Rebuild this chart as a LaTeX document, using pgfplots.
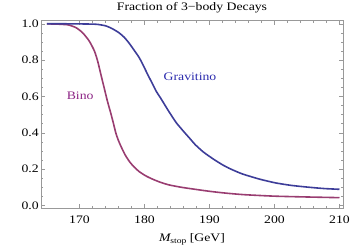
\documentclass[border=0pt]{standalone}
\usepackage{pgfplots}
\pgfplotsset{compat=1.18}
\usepackage{fontspec}
\setmainfont{Liberation Serif}
\definecolor{gravline}{rgb}{0.24,0.24,0.6}
\definecolor{binoline}{rgb}{0.6,0.24,0.442}
\definecolor{gravtext}{rgb}{0.17,0.17,0.68}
\definecolor{binotext}{rgb}{0.55,0.14,0.52}
\definecolor{framecol}{gray}{0.6}
\begin{document}
\begin{tikzpicture}
\useasboundingbox (-41bp,-40.7bp) rectangle (309bp,208.2bp);
\begin{axis}[
  at={(0,0)}, anchor=south west,
  scale only axis, width=302bp, height=187.5bp,
  xmin=164.08, xmax=210.54, ymin=-0.015, ymax=1.017,
  xtick={170,180,190,200,210},
  ytick={0,0.2,0.4,0.6,0.8,1.0},
  minor x tick num=4, minor y tick num=3,
  tick align=inside,
  major tick length=4bp, minor tick length=2bp,
  axis line style={framecol, line width=0.6bp},
  every tick/.style={framecol, line width=0.5bp},
  every axis title shift=0pt,
  /pgf/number format/assume math mode=true,
  yticklabel style={/pgf/number format/fixed, /pgf/number format/fixed zerofill, /pgf/number format/precision=1,
     anchor=east, inner sep=0pt, xshift=-2bp, font=\fontsize{11.5}{12}\selectfont, xscale=1.2},
  xticklabel style={anchor=base, inner sep=0pt, yshift=-15bp, font=\fontsize{11.5}{12}\selectfont, xscale=1.2},
  title={Fraction of 3−body Decays},
  title style={at={(axis description cs:0.5,1)}, anchor=base, yshift=10bp, inner sep=0pt, font=\fontsize{11.5}{12}\selectfont, xscale=1.2},
  xlabel={{\itshape M}\raisebox{-0.35ex}{\fontsize{8}{8}\selectfont stop} [GeV]},
  xlabel style={at={(axis description cs:0.5,0)}, anchor=base, yshift=-33.4bp, inner sep=0pt, font=\fontsize{11.5}{12}\selectfont, xscale=1.2},
]
\addplot[binoline, line width=1.6bp, smooth, tension=0.4] coordinates {
(165,1.0) (165.7,0.999) (166.7,0.998) (167.7,0.996) (168.4,0.993) (169.5,0.978)
(170.5,0.95) (171.5,0.905) (172.3,0.85) (172.8,0.794) (173.3,0.72) (173.8,0.647)
(174.3,0.574) (174.8,0.51) (175.2,0.455) (175.6,0.398) (176.0,0.357) (176.4,0.324)
(177.0,0.28) (177.7,0.241) (178.4,0.212) (179.2,0.186) (180.2,0.163) (181.3,0.144)
(182.5,0.127) (183.8,0.113) (185.7,0.1) (187.8,0.089) (190.0,0.078) (192.5,0.068)
(195.1,0.06) (197.7,0.055) (200.2,0.051) (204.7,0.047) (210,0.043)
};
\addplot[gravline, line width=1.6bp, smooth, tension=0.4] coordinates {
(165,1.0) (167.7,1.0) (170.7,0.999) (172.7,0.997) (174.1,0.988) (175.1,0.972)
(176.1,0.95) (176.9,0.925) (177.6,0.895) (178.4,0.855) (179.2,0.813) (179.9,0.765)
(180.5,0.72) (181.2,0.672) (181.8,0.629) (182.5,0.59) (183.1,0.555) (183.7,0.52)
(184.3,0.487) (184.9,0.455) (185.6,0.425) (186.2,0.40) (186.9,0.372) (187.8,0.335)
(189.0,0.296) (190.0,0.27) (191.0,0.246) (192.0,0.224) (193.0,0.205) (194.0,0.189)
(195.1,0.173) (197.7,0.145) (200.2,0.124) (202.7,0.11) (205.4,0.1) (207.7,0.093) (210,0.089)
};
\node[text=binotext, font=\fontsize{11.5}{12}\selectfont, xscale=1.2] at (axis cs:170.1,0.605) {Bino};
\node[text=gravtext, font=\fontsize{11.5}{12}\selectfont, xscale=1.2] at (axis cs:187.0,0.706) {Gravitino};
\end{axis}
\end{tikzpicture}
\end{document}
